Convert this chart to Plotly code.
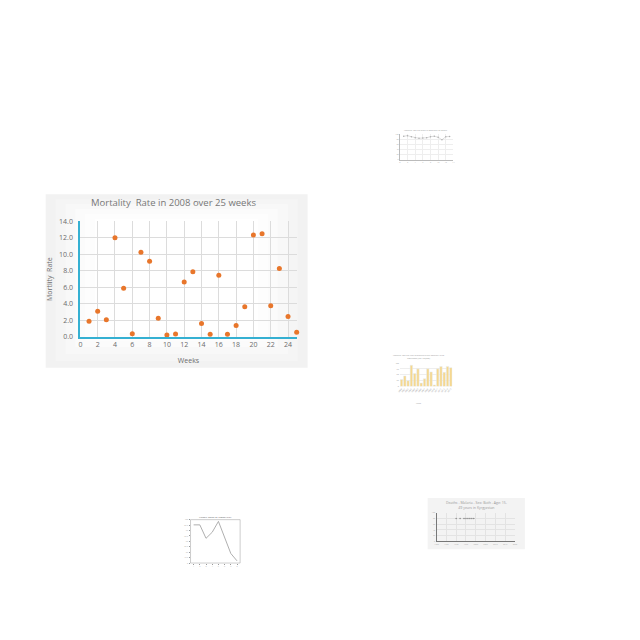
import plotly.graph_objects as go

# ---- main chart data ----
weeks = list(range(1, 26))
mortality = [1.9, 3.1, 2.07, 12.0, 5.9, 0.4, 10.26, 9.15, 2.27, 0.24, 0.36, 6.64, 7.88,
             1.63, 0.32, 7.48, 0.32, 1.39, 3.66, 12.33, 12.49, 3.78, 8.27, 2.47, 0.56]
x_ticks = list(range(0, 25, 2))
y_ticks = list(range(0, 15, 2))

# ---- thumbnail data (approximate) ----
thumb1_x = list(range(1, 14))
thumb1_y = [92, 94, 90, 86, 84, 85, 86, 90, 92, 88, 78, 90, 91]

thumb2_cat = [str(2000 + i) for i in range(16)]
thumb2_y = [30, 45, 25, 90, 55, 75, 15, 33, 75, 62, 7, 75, 85, 60, 85, 80]

thumb3_x = [1, 2, 3, 4, 5, 6, 7, 8]
thumb3_y = [88, 88, 57, 71, 96, 61, 22, 5]

thumb4_x = [1990, 1992, 1994, 1995, 1996, 1997, 1998, 1999]
thumb4_y = [80, 80, 80, 80, 80, 80, 80, 80]

W = 640.0
def px(v):
    return v / W
def py(v):
    return 1 - v / W

TEAL = "#35b0d2"
ORANGE = "#e8762b"
GRID = "#dcdcdc"
TXT = "#6b6b6b"

fig = go.Figure()

fig.add_trace(go.Scatter(x=weeks, y=mortality, mode="markers",
                         marker=dict(color=ORANGE, size=5),
                         xaxis="x", yaxis="y", cliponaxis=False, showlegend=False))

fig.add_trace(go.Scatter(x=thumb1_x, y=thumb1_y, mode="lines+markers",
                         line=dict(color="#c8c8c8", width=0.6),
                         marker=dict(color="#b0b0b0", size=1.5),
                         xaxis="x2", yaxis="y2", showlegend=False))

fig.add_trace(go.Bar(x=thumb2_cat, y=thumb2_y, marker=dict(color="#f6d88e"),
                     xaxis="x3", yaxis="y3", showlegend=False))

fig.add_trace(go.Scatter(x=thumb3_x, y=thumb3_y, mode="lines",
                         line=dict(color="#9a9a9a", width=0.8),
                         xaxis="x4", yaxis="y4", showlegend=False))

fig.add_trace(go.Scatter(x=thumb4_x, y=thumb4_y, mode="markers",
                         marker=dict(color="#8a8a8a", size=1.6),
                         xaxis="x5", yaxis="y5", showlegend=False))

shapes = []
# main chart background with soft vignette
for i, col in enumerate(["#f2f2f2", "#f5f5f5", "#f8f8f8", "#fbfbfb", "#fdfdfd", "#ffffff"]):
    d = i * 10
    shapes.append(dict(type="rect", xref="paper", yref="paper", layer="below",
                       x0=px(44 + d), x1=px(308 - d), y0=py(368 - d * 0.7), y1=py(192 + d * 0.5),
                       line=dict(width=0), fillcolor=col))
# thumbnail 4 background
shapes.append(dict(type="rect", xref="paper", yref="paper", layer="below",
                   x0=px(429), x1=px(527), y0=py(552), y1=py(500),
                   line=dict(width=0), fillcolor="#f3f3f3"))
# thumbnail 3 frame
shapes.append(dict(type="rect", xref="paper", yref="paper", layer="above",
                   x0=px(190), x1=px(240), y0=py(566), y1=py(522),
                   line=dict(width=0.5, color="#9a9a9a")))

small = dict(size=2, color="#aaaaaa")

def note(text, x, y, size, color="#999999"):
    return dict(text=text, x=px(x), y=py(y), xref="paper", yref="paper", showarrow=False,
                xanchor="center", yanchor="middle", font=dict(size=size, color=color))

fig.update_layout(
    width=640, height=640,
    margin=dict(l=0, r=0, t=0, b=0),
    paper_bgcolor="white", plot_bgcolor="rgba(0,0,0,0)",
    font=dict(family="Open Sans", color=TXT),
    shapes=shapes,
    xaxis=dict(domain=[px(79), px(297)], range=[0, 25], tickvals=x_ticks,
               showgrid=True, gridcolor=GRID, gridwidth=1, zeroline=False,
               showline=True, linecolor=TEAL, linewidth=2,
               tickfont=dict(size=7, color=TXT), ticks="",
               title=dict(text="Weeks", font=dict(size=7, color=TXT), standoff=10)),
    yaxis=dict(domain=[py(336.7), py(219.3)], range=[0, 14], tickvals=y_ticks,
               tickformat=".1f", showgrid=True, gridcolor=GRID, gridwidth=1, zeroline=False,
               showline=True, linecolor=TEAL, linewidth=2,
               tickfont=dict(size=7, color=TXT), ticks="", ticklabelstandoff=4,
               title=dict(text="Mortlity  Rate", font=dict(size=7, color=TXT), standoff=6)),
    xaxis2=dict(domain=[px(401), px(455)], range=[0, 14], anchor="y2",
                showgrid=True, gridcolor="#eeeeee", zeroline=False, dtick=2,
                showline=True, linecolor="#bbbbbb", linewidth=0.5,
                tickfont=small, ticks=""),
    yaxis2=dict(domain=[py(157), py(131)], range=[0, 100], anchor="x2",
                showgrid=True, gridcolor="#eeeeee", zeroline=False, dtick=20,
                showline=True, linecolor="#bbbbbb", linewidth=0.5,
                tickfont=small, ticks=""),
    xaxis3=dict(domain=[px(401), px(454)], anchor="y3", tickangle=-45,
                showgrid=False, zeroline=False, tickfont=dict(size=2, color="#999999")),
    yaxis3=dict(domain=[py(387), py(363)], range=[0, 100], anchor="x3",
                showgrid=True, gridcolor="#eeeeee", zeroline=False, dtick=25,
                tickfont=dict(size=2, color="#999999")),
    xaxis4=dict(domain=[px(190), px(240)], range=[0.5, 8.5], anchor="y4",
                showgrid=False, zeroline=False, dtick=1, ticks="outside", ticklen=1,
                tickcolor="#999999", tickfont=small),
    yaxis4=dict(domain=[py(566), py(522)], range=[0, 100], anchor="x4",
                showgrid=False, zeroline=False, dtick=12.5, ticks="outside", ticklen=1,
                tickcolor="#999999", tickfont=small),
    xaxis5=dict(domain=[px(438), px(517)], range=[1980, 2020], anchor="y5",
                showgrid=True, gridcolor="#e3e3e3", zeroline=False, dtick=5,
                showline=True, linecolor="#777777", linewidth=1,
                tickfont=small, ticks=""),
    yaxis5=dict(domain=[py(544), py(515)], range=[0, 100], anchor="x5",
                showgrid=True, gridcolor="#e3e3e3", zeroline=False, dtick=20,
                showline=True, linecolor="#777777", linewidth=1,
                tickfont=small, ticks=""),
    bargap=0.25,
    annotations=[
        note("Mortality  Rate in 2008 over 25 weeks", 173, 200.5, 9.5, "#777777"),
        note("Mortality rate per week in 2008 over 25 weeks", 427, 127, 2),
        note("Mortality rate per year of malaria in sub-Saharan Africa<br>population (per 100,000)",
             420, 357.5, 2),
        note("Week", 420, 404, 2),
        note("Weekly count of MORTALITY", 215, 519.5, 2.5, "#555555"),
        note("Deaths - Malaria - Sex: Both - Age: 15-<br>49 years in Kyrgyzstan", 478, 507, 3.5),
    ],
)

fig.write_html("out.html")
